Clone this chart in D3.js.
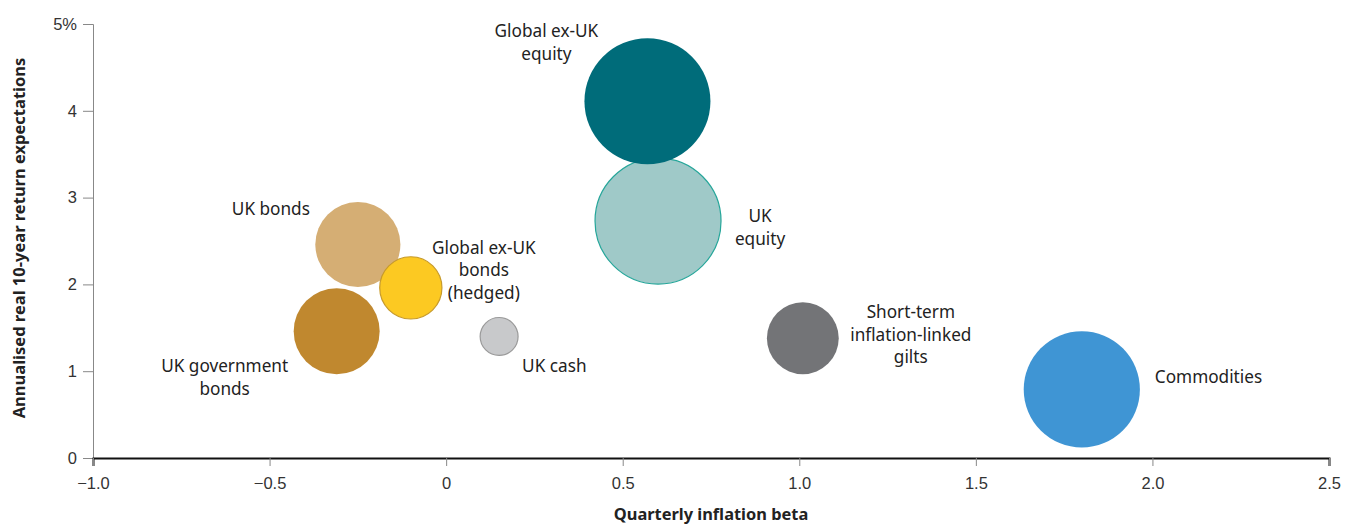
<!DOCTYPE html>
<html>
<head>
<meta charset="utf-8">
<script src="https://cdn.jsdelivr.net/npm/d3@7"></script>
<style>
  html, body { margin: 0; padding: 0; background: #fff; }
  svg { display: block; font-family: "Noto Sans", "Open Sans", sans-serif; }
</style>
</head>
<body>
<svg id="chart" width="1356" height="524"></svg>
<script>
// Asset classes: inflation beta (x), real 10-year return expectation (y), volatility (bubble area)
const assets = [
  "UK equity", "Global ex-UK equity", "UK bonds", "Global ex-UK bonds (hedged)",
  "UK government bonds", "UK cash", "Short-term inflation-linked gilts", "Commodities"
];
const inflationBeta = [0.60, 0.57, -0.25, -0.10, -0.31, 0.15, 1.01, 1.80];
const realReturn    = [2.73, 4.11, 2.46, 1.96, 1.46, 1.40, 1.38, 0.79];
const volatility    = [16.0, 16.0, 7.3, 3.9, 7.45, 1.45, 5.2, 13.6];
const labelLines = [
  ["UK", "equity"],
  ["Global ex-UK", "equity"],
  ["UK bonds"],
  ["Global ex-UK", "bonds", "(hedged)"],
  ["UK government", "bonds"],
  ["UK cash"],
  ["Short-term", "inflation-linked", "gilts"],
  ["Commodities"]
];
const xTicks = [-1.0, -0.5, 0, 0.5, 1.0, 1.5, 2.0, 2.5];
const yTicks = [0, 1, 2, 3, 4, 5];
const xTitle = "Quarterly inflation beta";
const yTitle = "Annualised real 10-year return expectations";

// Styling per asset
const fills   = ["#9fc9c8", "#006c7a", "#d5ae74", "#fcc922", "#c0882f", "#c8c9cb", "#737477", "#3f95d4"];
const strokes = ["#26a69a", "none", "none", "#c79a2a", "none", "#9a9a9a", "none", "none"];
// Label offsets relative to bubble centre (first line baseline) and text anchor
const labelPos = [
  { dx: 102, dy: 1, anchor: "middle" },
  { dx: -101, dy: -64, anchor: "middle" },
  { dx: -87, dy: -29, anchor: "middle" },
  { dx: 73, dy: -34, anchor: "middle" },
  { dx: -112, dy: 41, anchor: "middle" },
  { dx: 23, dy: 36, anchor: "start" },
  { dx: 108, dy: -20, anchor: "middle" },
  { dx: 73, dy: -6, anchor: "start" }
];

const svg = d3.select("#chart");
const margin = { left: 93, right: 27, top: 24, bottom: 66 };
const W = 1356, H = 524;

const x = d3.scaleLinear().domain([-1, 2.5]).range([margin.left, W - margin.right]);
const y = d3.scaleLinear().domain([0, 5]).range([H - margin.bottom, margin.top]);
const r = d3.scaleSqrt().domain([0, 16]).range([0, 63]);

// Y axis
const yAxis = svg.append("g")
  .attr("transform", `translate(${margin.left},0)`)
  .call(d3.axisLeft(y).tickValues(yTicks).tickSize(10).tickPadding(6)
    .tickFormat(d => d === 5 ? "5%" : d3.format("d")(d)));
yAxis.select(".domain").attr("stroke", "#888").attr("stroke-width", 1);
yAxis.selectAll(".tick line").attr("stroke", "#888");
yAxis.selectAll(".tick text").attr("fill", "#333").attr("font-size", 16.5);

// X axis
const xAxis = svg.append("g")
  .attr("transform", `translate(0,${y(0)})`)
  .call(d3.axisBottom(x).tickValues(xTicks).tickSize(8).tickPadding(11)
    .tickFormat(d => d === 0 ? "0" : d3.format(".1f")(d)));
xAxis.select(".domain").attr("stroke", "#111").attr("stroke-width", 2);
xAxis.selectAll(".tick line").attr("stroke", "#888");
xAxis.selectAll(".tick text").attr("fill", "#333").attr("font-size", 16.5);

// Bubbles (UK equity first so the global bubble sits above it)
const data = assets.map((name, i) => ({
  name, bx: inflationBeta[i], ry: realReturn[i], vol: volatility[i],
  fill: fills[i], stroke: strokes[i], lines: labelLines[i], pos: labelPos[i]
}));

svg.append("g").selectAll("circle")
  .data(data)
  .join("circle")
  .attr("cx", d => x(d.bx))
  .attr("cy", d => y(d.ry))
  .attr("r", d => r(d.vol))
  .attr("fill", d => d.fill)
  .attr("stroke", d => d.stroke)
  .attr("stroke-width", 1.2);

// Labels
const lineH = 22.5;
const labels = svg.append("g").attr("font-size", 17.2).attr("fill", "#222");
data.forEach(d => {
  const t = labels.append("text")
    .attr("text-anchor", d.pos.anchor);
  d.lines.forEach((ln, k) => {
    t.append("tspan")
      .attr("x", x(d.bx) + d.pos.dx)
      .attr("y", y(d.ry) + d.pos.dy + k * lineH)
      .text(ln);
  });
});

// Axis titles
svg.append("text")
  .attr("x", 711)
  .attr("y", 520)
  .attr("text-anchor", "middle")
  .attr("font-size", 16.4)
  .attr("font-weight", 700)
  .attr("fill", "#222")
  .text(xTitle);

svg.append("text")
  .attr("transform", `translate(25,238) rotate(-90)`)
  .attr("text-anchor", "middle")
  .attr("font-size", 16.5)
  .attr("font-weight", 700)
  .attr("fill", "#222")
  .text(yTitle);
</script>
</body>
</html>
